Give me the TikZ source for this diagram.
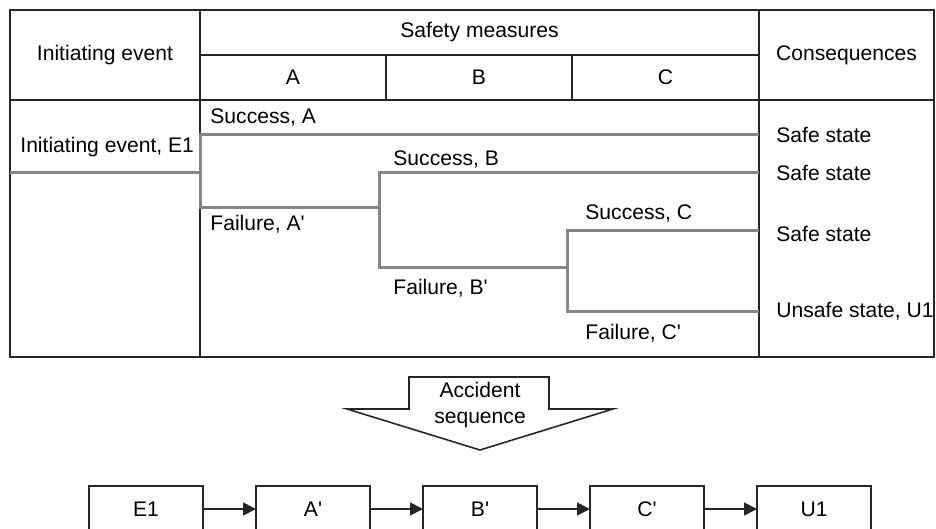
\documentclass[tikz,border=0pt]{standalone}
\usepackage{fontspec}
\setmainfont{Liberation Sans}
\usetikzlibrary{arrows.meta,positioning}

\begin{document}
\begin{tikzpicture}[
    x=0.5pt, y=-0.5pt,               % 1 drawing unit = 1 px, y pointing down
    >={Triangle[length=6.5pt,width=6.5pt]},
    font=\fontsize{10.55}{12.6}\selectfont,
    rule/.style={line width=0.9pt,black!85},
    branch/.style={line width=1.5pt,black!48},
    lbl/.style={anchor=west,inner sep=0pt},
    seqbox/.style={draw=black!85,line width=0.8pt,minimum width=57pt,
                   minimum height=23pt,inner sep=0pt,outer sep=0pt},
    link/.style={->,line width=0.9pt,black!85},
  ]
  \useasboundingbox (0,0) rectangle (936,529);
  \def\q{\textquotesingle}

  %% ---------------- table grid ----------------
  \def\L{10}\def\R{934}\def\T{10}\def\B{357}
  \def\CA{200}\def\CB{386}\def\CC{572}\def\CD{759}
  \draw[rule] (\L,\T) rectangle (\R,\B);
  \foreach \x in {\CA,\CD}{\draw[rule] (\x,\T) -- (\x,\B);}
  \foreach \x in {\CB,\CC}{\draw[rule] (\x,55) -- (\x,100);}
  \draw[rule] (\CA,55) -- (\CD,55);
  \draw[rule] (\L,100) -- (\R,100);

  %% ---------------- header ----------------
  \node (hinit) at ({(\L+\CA)/2},55) {Initiating event};
  \node (hsafe) at ({(\CA+\CD)/2},32.5) {Safety measures};
  \node (hA) at ({(\CA+\CB)/2},77.5) {A};
  \node (hB) at ({(\CB+\CC)/2},77.5) {B};
  \node (hC) at ({(\CC+\CD)/2},77.5) {C};
  \node (hcons) at ({(\CD+\R)/2},55) {Consequences};

  %% ---------------- event tree ----------------
  \def\XB{379}\def\XC{567}
  \draw[branch] (\L,173) -- (\CA,173);
  \draw[branch] (\CD,135) -- (\CA,135) -- (\CA,208) -- (\XB,208);
  \draw[branch] (\CD,173) -- (\XB,173) -- (\XB,267) -- (\XC,267);
  \draw[branch] (\CD,231) -- (\XC,231) -- (\XC,311) -- (\CD,311);

  \node[lbl] (ie) at (20,147) {Initiating event, E1};
  \node[lbl] (sa) at (210,117) {Success, A};
  \node[lbl] (fa) at (210,224) {Failure, A\q};
  \node[lbl] (sb) at (393,159) {Success, B};
  \node[lbl] (fb) at (393,288) {Failure, B\q};
  \node[lbl] (sc) at (585,213) {Success, C};
  \node[lbl] (fc) at (585,333) {Failure, C\q};

  \foreach \y/\n/\t in {135/c1/Safe state, 173/c2/Safe state,
                        234/c3/Safe state, 311/c4/{Unsafe state, U1}}
    \node[lbl] (\n) at (776,\y) {\t};

  %% ---------------- accident sequence arrow ----------------
  \draw[line width=0.8pt,black!85,line join=miter]
    (409,377) -- (549,377) -- (549,409) -- (613,409) -- (480,450)
    -- (347,409) -- (409,409) -- cycle;
  \node[align=center,inner sep=0pt] (seq) at (480,405) {Accident\\sequence};

  %% ---------------- sequence chain ----------------
  \node[seqbox] (e1) at (146,509) {E1};
  \node[seqbox,right=26.5pt of e1] (a1) {A\q};
  \node[seqbox,right=26.5pt of a1] (b1) {B\q};
  \node[seqbox,right=26.5pt of b1] (c1) {C\q};
  \node[seqbox,right=26.5pt of c1] (u1) {U1};
  \foreach \p/\r in {e1/a1,a1/b1,b1/c1,c1/u1}{\draw[link] (\p) -- (\r);}
\end{tikzpicture}
\end{document}
